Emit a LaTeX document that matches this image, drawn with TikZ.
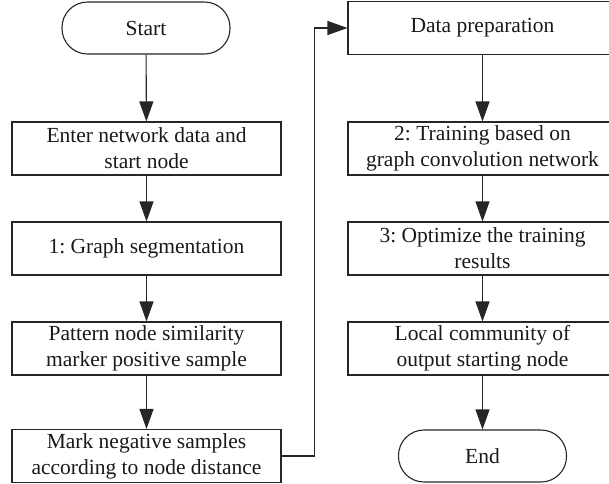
\documentclass[tikz,border=0pt]{standalone}
\usepackage{fontspec}
\setmainfont{Liberation Serif}
\frenchspacing
\usetikzlibrary{arrows.meta}
\begin{document}
\begin{tikzpicture}[x=1pt,y=-1pt,
  box/.style={draw=black!85, line width=1.1pt, minimum width=269pt, minimum height=53pt,
    align=center, inner sep=1pt, font=\fontsize{21.5}{26}\selectfont, text=black!90},
  term/.style={box, rounded corners=25.5pt, minimum width=168pt, minimum height=52pt},
  flow/.style={draw=black!85, line width=1.1pt, -{Triangle[length=20pt,width=14pt]}}]
\useasboundingbox (0,0) rectangle (609,483);
\clip (0,0) rectangle (609,483);

% left column
\node[term] (start) at (146,28) {Start};
\node[box] (b1) at (146.5,148.5) {Enter network data and\\start node};
\node[box] (b2) at (146.5,248.5) {1: Graph segmentation};
\node[box] (b3) at (146.5,348.5) {Pattern node similarity\\marker positive sample};
\node[box] (b4) at (146.5,456) {Mark negative samples\\according to node distance};

% right column
\node[box] (dp) at (482.5,28) {Data preparation};
\node[box] (t2) at (482.5,148.5) {2: Training based on\\graph convolution network};
\node[box] (t3) at (482.5,248.5) {3: Optimize the training\\results};
\node[box] (lc) at (482.5,348.5) {Local community of\\output starting node};
\node[term] (end) at (482.5,456) {End};

% connectors
\draw[flow] (start) -- (b1);
\draw[flow] (b1) -- (b2);
\draw[flow] (b2) -- (b3);
\draw[flow] (b3) -- (b4);
\draw[flow] (b4.east) -- ++(33,0) |- (dp.west);
\draw[flow] (dp) -- (t2);
\draw[flow] (t2) -- (t3);
\draw[flow] (t3) -- (lc);
\draw[flow] (lc) -- (end);
\end{tikzpicture}
\end{document}
